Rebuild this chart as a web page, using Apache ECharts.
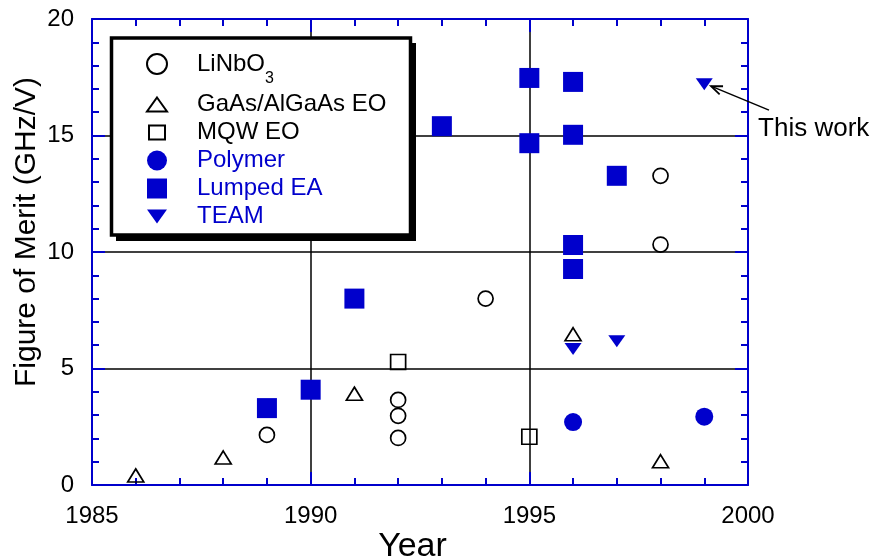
<!DOCTYPE html>
<html>
<head>
<meta charset="utf-8">
<script src="https://cdn.jsdelivr.net/npm/echarts@6/dist/echarts.min.js"></script>
<style>
  html, body { margin: 0; padding: 0; background: #fff; }
  #chart { width: 872px; height: 560px; }
</style>
</head>
<body>
<div id="chart"></div>
<script>
// Modulator figure of merit vs. year, by device technology
const BLUE = '#0000cc';
const FONT = "'Liberation Sans', Arial, Helvetica, sans-serif";

const yearRange = [1985, 2000];
const meritRange = [0, 20];

// [year, figure of merit (GHz/V)]
const linbo3   = [[1989, 2.15], [1992, 3.65], [1992, 2.97], [1992, 2.02], [1994, 8.0], [1998, 13.27], [1998, 10.32]];
const gaasEO   = [[1986, 0.41], [1988, 1.18], [1991, 3.92], [1996, 6.47], [1998, 1.02]];
const mqwEO    = [[1992, 5.28], [1995, 2.07]];
const polymer  = [[1996, 2.7], [1999, 2.93]];
const lumpedEA = [[1989, 3.3], [1990, 4.09], [1991, 8.0], [1993, 15.4], [1995, 17.47], [1995, 14.67],
                  [1996, 17.3], [1996, 15.03], [1996, 10.3], [1996, 9.27], [1997, 13.27]];
const team     = [[1996, 5.84], [1997, 6.17], [1999, 17.2]];

// callout for the newest TEAM result
const noteText = 'This work';
const noteAt = [2000.23, 15.3];
const arrowFrom = [2000.48, 16.09];
const arrowTo = [1999.155, 17.12];

const triDown = 'path://M0,0 L20,0 L10,14 Z';
// legend icons: padded paths keep their proportions inside the square icon box
const triUpIcon = 'path://M10,3 L20,17 L0,17 Z M0,0 M0,20';
const triDownIcon = 'path://M0,3 L20,3 L10,17 Z M0,0 M0,20';
const squareIcon = 'path://M0,0 L20,0 L20,20 L0,20 Z';
const openSquareIcon = 'path://M1,3 L17,3 L17,17 L1,17 Z M0,0 M18,20';

const openStyle = { color: 'transparent', borderColor: '#000', borderWidth: 1.7, opacity: 1 };
const fillStyle = { color: BLUE, opacity: 1 };

const chart = echarts.init(document.getElementById('chart'), null, { renderer: 'canvas' });

const axisBase = {
  type: 'value',
  axisLine: { show: true, onZero: false, lineStyle: { color: BLUE, width: 2 } },
  axisTick: { show: true, inside: true, length: 13, lineStyle: { color: BLUE, width: 2 } },
  minorTick: { show: true, splitNumber: 5, length: 7, lineStyle: { color: BLUE, width: 2 } }
};
const gridLine = { show: true, showMinLine: false, showMaxLine: false, lineStyle: { color: '#000', width: 1.5 } };
const plain = function (v) { return String(v); };

chart.setOption({
  animation: false,
  backgroundColor: '#fff',
  textStyle: { fontFamily: FONT },
  grid: { left: 92, right: 124, top: 19, bottom: 75, containLabel: false, outerBoundsMode: 'none' },
  xAxis: [
    Object.assign({}, axisBase, {
      position: 'bottom', min: yearRange[0], max: yearRange[1], interval: 5,
      axisLabel: { fontSize: 24, color: '#000', margin: 19, fontFamily: FONT, formatter: plain },
      splitLine: gridLine,
      name: 'Year', nameLocation: 'middle', nameGap: 45, nameMoveOverlap: false,
      nameTextStyle: { fontSize: 34, color: '#000', fontFamily: FONT, padding: [0, 15, 0, 0] }
    }),
    Object.assign({}, axisBase, {
      position: 'top', min: yearRange[0], max: yearRange[1], interval: 5,
      axisLabel: { show: false }, splitLine: { show: false }
    })
  ],
  yAxis: [
    Object.assign({}, axisBase, {
      position: 'left', min: meritRange[0], max: meritRange[1], interval: 5,
      axisLabel: { fontSize: 24, color: '#000', margin: 18, fontFamily: FONT, formatter: plain },
      splitLine: gridLine,
      name: 'Figure of Merit (GHz/V)', nameLocation: 'middle', nameGap: 50, nameMoveOverlap: false,
      nameTextStyle: { fontSize: 30, color: '#000', fontFamily: FONT, padding: [0, 0, 0, 40] }
    }),
    Object.assign({}, axisBase, {
      position: 'right', min: meritRange[0], max: meritRange[1], interval: 5,
      axisLabel: { show: false }, splitLine: { show: false }
    })
  ],
  legend: {
    orient: 'vertical', left: 136, top: 50,
    itemWidth: 70, itemHeight: 20, itemGap: 4,
    padding: [2, 12, 9, 10],
    selectedMode: false,
    z: 6,
    textStyle: {
      fontSize: 24, color: '#000', fontFamily: FONT,
      rich: {
        m: { fontSize: 24, lineHeight: 49, verticalAlign: 'middle', fontFamily: FONT },
        s: { fontSize: 16, lineHeight: 16, verticalAlign: 'bottom', padding: [0, 0, 2, 0], fontFamily: FONT }
      }
    },
    formatter: function (n) { return n === 'LiNbO3' ? '{m|LiNbO}{s|3}' : n; },
    data: [
      { name: 'LiNbO3' },
      { name: 'GaAs/AlGaAs EO', icon: triUpIcon },
      { name: 'MQW EO', icon: openSquareIcon },
      { name: 'Polymer', textStyle: { color: BLUE } },
      { name: 'Lumped EA', icon: squareIcon, textStyle: { color: BLUE } },
      { name: 'TEAM', icon: triDownIcon, textStyle: { color: BLUE } }
    ]
  },
  series: [
    { name: 'LiNbO3', type: 'scatter', data: linbo3, symbol: 'circle', symbolSize: 15, itemStyle: openStyle },
    { name: 'GaAs/AlGaAs EO', type: 'scatter', data: gaasEO, symbol: 'triangle', symbolSize: [16, 13], itemStyle: openStyle },
    { name: 'MQW EO', type: 'scatter', data: mqwEO, symbol: 'rect', symbolSize: 15, itemStyle: openStyle },
    { name: 'Polymer', type: 'scatter', data: polymer, symbol: 'circle', symbolSize: 18, itemStyle: fillStyle },
    { name: 'Lumped EA', type: 'scatter', data: lumpedEA, symbol: 'rect', symbolSize: 20, itemStyle: fillStyle },
    { name: 'TEAM', type: 'scatter', data: team, symbol: triDown, symbolSize: [17, 12], itemStyle: fillStyle }
  ]
});

// legend frame with a solid drop shadow, plus the callout arrow and label
function toPx(p) { return chart.convertToPixel({ xAxisIndex: 0, yAxisIndex: 0 }, p); }
const a = toPx(arrowFrom), b = toPx(arrowTo), t = toPx(noteAt);
const ang = Math.atan2(a[1] - b[1], a[0] - b[0]);
const barb = 12, spread = 0.38;
const h1 = [b[0] + barb * Math.cos(ang + spread), b[1] + barb * Math.sin(ang + spread)];
const h2 = [b[0] + barb * Math.cos(ang - spread), b[1] + barb * Math.sin(ang - spread)];
chart.setOption({
  graphic: [
    { type: 'rect', shape: { x: 116, y: 43, width: 300, height: 198 }, style: { fill: '#000' }, z: 4 },
    { type: 'rect', shape: { x: 111.5, y: 38, width: 299, height: 197 }, style: { fill: '#fff', stroke: '#000', lineWidth: 3.5 }, z: 5 },
    { type: 'line', shape: { x1: a[0], y1: a[1], x2: b[0], y2: b[1] }, style: { stroke: '#000', lineWidth: 1.5 }, z: 10 },
    { type: 'polyline', shape: { points: [h1, b, h2] }, style: { stroke: '#000', lineWidth: 1.8, fill: null }, z: 10 },
    { type: 'text', x: t[0], y: t[1], style: { text: noteText, fontSize: 26, fontFamily: FONT, fill: '#000', align: 'left', verticalAlign: 'middle' }, z: 10 }
  ]
});
</script>
</body>
</html>
